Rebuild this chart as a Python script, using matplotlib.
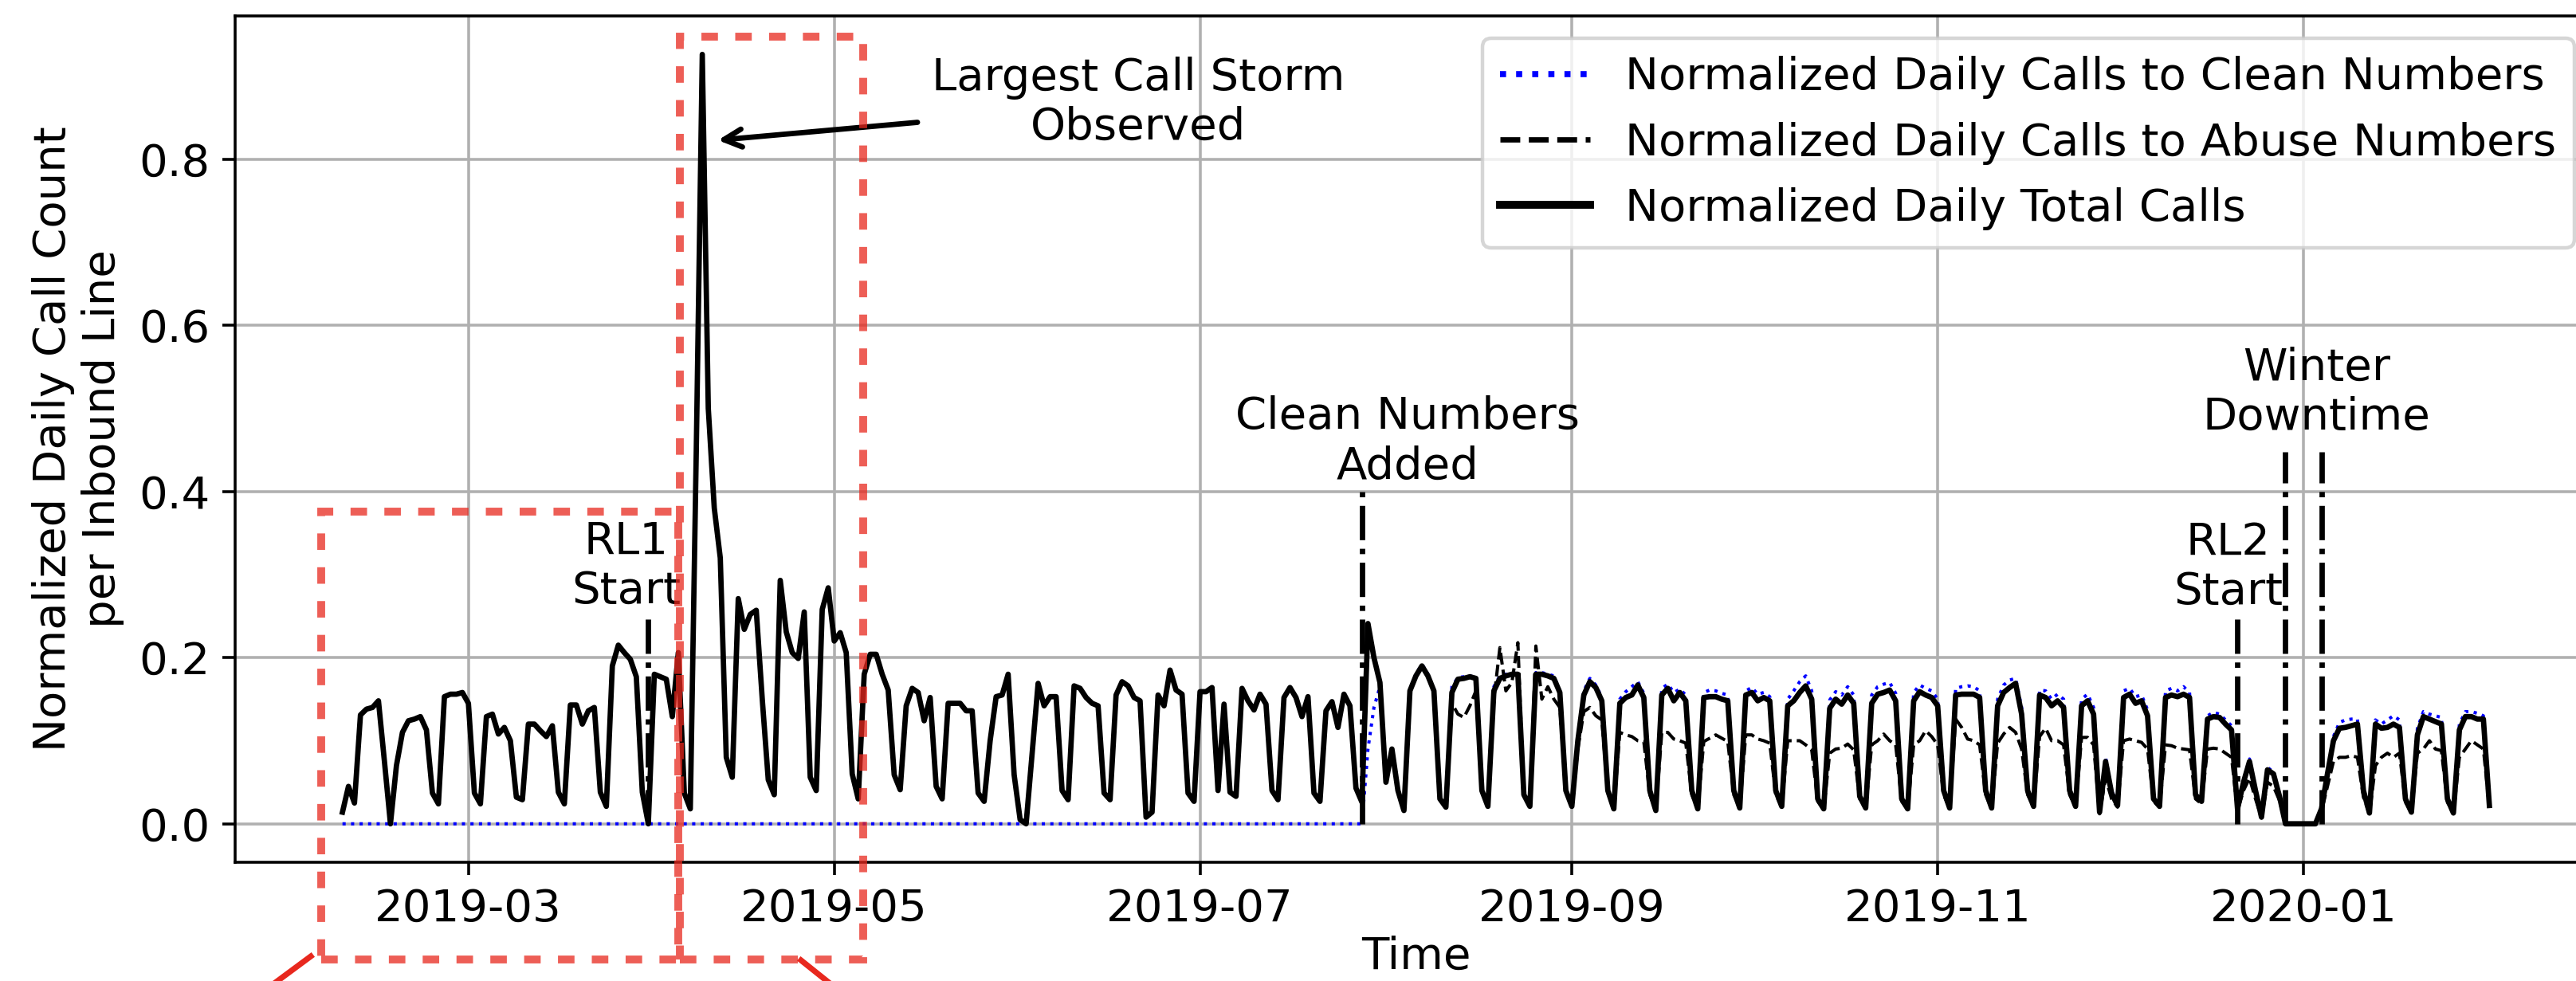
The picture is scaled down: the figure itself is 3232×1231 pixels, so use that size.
import pandas as pd
import matplotlib
matplotlib.use("Agg")
import matplotlib.pyplot as plt
import matplotlib.dates as mdates
from matplotlib.patches import Rectangle
from matplotlib.lines import Line2D

# daily values, 2019-02-08 .. 2020-02-01 (one row per Mon..Sun week)
start_date = "2019-02-08"
end_date = "2020-02-01"

total_calls = [
    0.014, 0.045, 0.025,
    0.131, 0.138, 0.140, 0.148, 0.075, 0.000, 0.070,
    0.110, 0.124, 0.126, 0.129, 0.113, 0.037, 0.024,
    0.153, 0.156, 0.156, 0.158, 0.145, 0.037, 0.024,
    0.129, 0.132, 0.108, 0.116, 0.100, 0.032, 0.029,
    0.120, 0.120, 0.112, 0.105, 0.118, 0.038, 0.024,
    0.143, 0.143, 0.120, 0.136, 0.140, 0.038, 0.021,
    0.190, 0.215, 0.206, 0.198, 0.177, 0.038, 0.000,
    0.180, 0.177, 0.174, 0.129, 0.206, 0.037, 0.018,
    0.450, 0.926, 0.500, 0.380, 0.320, 0.080, 0.056,
    0.271, 0.234, 0.252, 0.257, 0.150, 0.053, 0.035,
    0.293, 0.231, 0.206, 0.199, 0.255, 0.056, 0.040,
    0.258, 0.284, 0.220, 0.230, 0.206, 0.060, 0.030,
    0.180, 0.204, 0.204, 0.180, 0.161, 0.059, 0.041,
    0.142, 0.163, 0.158, 0.124, 0.152, 0.045, 0.030,
    0.145, 0.145, 0.145, 0.136, 0.136, 0.037, 0.027,
    0.100, 0.153, 0.155, 0.180, 0.059, 0.005, 0.000,
    0.085, 0.169, 0.142, 0.153, 0.153, 0.040, 0.029,
    0.166, 0.163, 0.152, 0.145, 0.142, 0.037, 0.029,
    0.155, 0.171, 0.166, 0.152, 0.148, 0.008, 0.014,
    0.155, 0.142, 0.185, 0.161, 0.156, 0.037, 0.027,
    0.159, 0.159, 0.164, 0.040, 0.144, 0.038, 0.033,
    0.163, 0.148, 0.137, 0.156, 0.144, 0.040, 0.029,
    0.152, 0.164, 0.152, 0.129, 0.153, 0.037, 0.027,
    0.136, 0.147, 0.116, 0.156, 0.142, 0.043, 0.026,
    0.241, 0.200, 0.170, 0.050, 0.090, 0.040, 0.016,
    0.160, 0.178, 0.190, 0.178, 0.160, 0.030, 0.020,
    0.158, 0.174, 0.175, 0.177, 0.175, 0.040, 0.021,
    0.160, 0.175, 0.178, 0.180, 0.180, 0.035, 0.021,
    0.180, 0.180, 0.178, 0.175, 0.158, 0.040, 0.021,
    0.100, 0.155, 0.171, 0.164, 0.148, 0.040, 0.018,
    0.145, 0.152, 0.155, 0.167, 0.152, 0.040, 0.016,
    0.155, 0.163, 0.148, 0.158, 0.148, 0.040, 0.018,
    0.152, 0.153, 0.153, 0.150, 0.148, 0.040, 0.019,
    0.155, 0.158, 0.148, 0.152, 0.148, 0.040, 0.021,
    0.142, 0.148, 0.158, 0.166, 0.150, 0.030, 0.018,
    0.139, 0.150, 0.144, 0.155, 0.145, 0.033, 0.019,
    0.145, 0.156, 0.158, 0.161, 0.148, 0.030, 0.018,
    0.148, 0.159, 0.155, 0.152, 0.142, 0.040, 0.019,
    0.155, 0.156, 0.156, 0.156, 0.152, 0.040, 0.019,
    0.142, 0.158, 0.164, 0.169, 0.132, 0.040, 0.021,
    0.155, 0.152, 0.142, 0.148, 0.140, 0.040, 0.021,
    0.142, 0.148, 0.132, 0.014, 0.075, 0.037, 0.022,
    0.152, 0.156, 0.145, 0.148, 0.130, 0.030, 0.021,
    0.152, 0.155, 0.153, 0.156, 0.152, 0.035, 0.027,
    0.126, 0.129, 0.128, 0.120, 0.113, 0.018, 0.050,
    0.075, 0.040, 0.008, 0.065, 0.060, 0.033, 0.000,
    0.000, 0.000, 0.000, 0.000, 0.000, 0.018, 0.060,
    0.100, 0.115, 0.116, 0.118, 0.120, 0.040, 0.013,
    0.120, 0.115, 0.116, 0.120, 0.116, 0.030, 0.014,
    0.107, 0.129, 0.126, 0.123, 0.120, 0.030, 0.013,
    0.113, 0.129, 0.129, 0.126, 0.126, 0.022,
]

# abuse numbers carried all calls until mid August
abuse_same_until = "2019-08-11"
abuse_calls_late = [
    0.145, 0.132, 0.128, 0.142, 0.160, 0.038, 0.021,
    0.150, 0.212, 0.160, 0.170, 0.218, 0.035, 0.021,
    0.214, 0.150, 0.165, 0.150, 0.140, 0.038, 0.020,
    0.090, 0.135, 0.140, 0.130, 0.125, 0.038, 0.018,
    0.110, 0.107, 0.105, 0.100, 0.099, 0.035, 0.016,
    0.110, 0.110, 0.102, 0.100, 0.097, 0.035, 0.018,
    0.099, 0.103, 0.107, 0.103, 0.099, 0.035, 0.019,
    0.107, 0.107, 0.102, 0.100, 0.097, 0.035, 0.020,
    0.100, 0.100, 0.100, 0.095, 0.089, 0.027, 0.017,
    0.085, 0.090, 0.091, 0.096, 0.089, 0.030, 0.018,
    0.095, 0.100, 0.108, 0.100, 0.095, 0.027, 0.017,
    0.095, 0.100, 0.112, 0.105, 0.095, 0.035, 0.018,
    0.126, 0.116, 0.102, 0.100, 0.095, 0.035, 0.018,
    0.097, 0.108, 0.116, 0.110, 0.090, 0.035, 0.020,
    0.105, 0.115, 0.100, 0.100, 0.095, 0.035, 0.020,
    0.104, 0.104, 0.095, 0.012, 0.055, 0.030, 0.020,
    0.100, 0.102, 0.100, 0.098, 0.090, 0.027, 0.020,
    0.095, 0.094, 0.091, 0.090, 0.089, 0.030, 0.024,
    0.090, 0.091, 0.090, 0.085, 0.080, 0.016, 0.040,
    0.055, 0.030, 0.007, 0.050, 0.045, 0.028, 0.000,
    0.000, 0.000, 0.000, 0.000, 0.000, 0.015, 0.045,
    0.075, 0.080, 0.080, 0.082, 0.080, 0.032, 0.012,
    0.070, 0.080, 0.085, 0.080, 0.085, 0.026, 0.013,
    0.085, 0.090, 0.100, 0.090, 0.088, 0.026, 0.012,
    0.080, 0.090, 0.100, 0.095, 0.090, 0.020,
]

# clean numbers went live on 2019-07-28, zero before
clean_start = "2019-07-29"
clean_calls_late = [
    0.090, 0.140, 0.165, 0.050, 0.090, 0.040, 0.016,
    0.162, 0.180, 0.192, 0.180, 0.162, 0.030, 0.020,
    0.165, 0.176, 0.177, 0.178, 0.176, 0.040, 0.021,
    0.165, 0.178, 0.180, 0.182, 0.182, 0.035, 0.021,
    0.182, 0.182, 0.180, 0.178, 0.160, 0.040, 0.021,
    0.105, 0.160, 0.175, 0.167, 0.152, 0.040, 0.018,
    0.150, 0.159, 0.165, 0.171, 0.157, 0.040, 0.016,
    0.163, 0.168, 0.158, 0.162, 0.155, 0.040, 0.018,
    0.158, 0.161, 0.160, 0.157, 0.155, 0.040, 0.019,
    0.160, 0.164, 0.156, 0.158, 0.153, 0.040, 0.021,
    0.150, 0.160, 0.171, 0.178, 0.160, 0.030, 0.018,
    0.149, 0.159, 0.155, 0.165, 0.155, 0.033, 0.019,
    0.155, 0.165, 0.168, 0.170, 0.157, 0.030, 0.018,
    0.158, 0.167, 0.163, 0.160, 0.150, 0.040, 0.019,
    0.163, 0.165, 0.166, 0.165, 0.160, 0.040, 0.019,
    0.150, 0.167, 0.173, 0.175, 0.140, 0.040, 0.021,
    0.161, 0.160, 0.150, 0.156, 0.150, 0.040, 0.021,
    0.150, 0.156, 0.140, 0.015, 0.080, 0.040, 0.023,
    0.160, 0.163, 0.153, 0.155, 0.137, 0.032, 0.021,
    0.160, 0.163, 0.160, 0.165, 0.158, 0.036, 0.028,
    0.130, 0.134, 0.132, 0.125, 0.118, 0.019, 0.052,
    0.078, 0.042, 0.008, 0.068, 0.062, 0.034, 0.000,
    0.000, 0.000, 0.000, 0.000, 0.000, 0.019, 0.062,
    0.105, 0.122, 0.125, 0.126, 0.126, 0.042, 0.013,
    0.125, 0.120, 0.125, 0.130, 0.125, 0.031, 0.014,
    0.115, 0.135, 0.132, 0.130, 0.128, 0.031, 0.013,
    0.120, 0.135, 0.135, 0.133, 0.130, 0.022,
]

# event markers: (date, top of line)
events = {
    "rl1": ("2019-03-31", 0.247),
    "clean": ("2019-07-28", 0.40),
    "rl2": ("2019-12-21", 0.25),
    "winter_a": ("2019-12-29", 0.448),
    "winter_b": ("2020-01-04", 0.448),
}

dates = pd.date_range(start_date, end_date, freq="D")
s_total = pd.Series(total_calls, index=dates)
s_abuse = pd.concat([s_total[:abuse_same_until],
                     pd.Series(abuse_calls_late, index=dates[dates > abuse_same_until])])
s_clean = pd.Series(0.0, index=dates)
s_clean[clean_start:] = clean_calls_late

W, H, DPI = 3232, 1231, 323
fig = plt.figure(figsize=(W / DPI, H / DPI), dpi=DPI)
ax = fig.add_axes([295 / W, 1 - 1082 / H, (3258 - 295) / W, (1082 - 20) / H])

ax.plot(s_clean.index, s_clean.values, color="blue", linestyle=":", lw=0.9)
ax.plot(s_abuse.index, s_abuse.values, color="black", linestyle="--", lw=0.9)
ax.plot(s_total.index, s_total.values, color="black", linestyle="-", lw=1.5)

for key, (d, top) in events.items():
    ax.plot([pd.Timestamp(d)] * 2, [0, top], color="black", linestyle="-.", lw=1.5)

fs = 12.5
ax.text(pd.Timestamp("2019-03-27 07:00"), 0.31, "RL1\nStart", ha="center", va="center", fontsize=fs)
ax.text(pd.Timestamp("2019-08-04 14:00"), 0.46, "Clean Numbers\nAdded", ha="center", va="center", fontsize=fs)
ax.text(pd.Timestamp("2019-12-19 10:00"), 0.309, "RL2\nStart", ha="center", va="center", fontsize=fs)
ax.text(pd.Timestamp("2020-01-03 05:00"), 0.519, "Winter\nDowntime", ha="center", va="center", fontsize=fs)
ax.annotate("Largest Call Storm\nObserved",
            xy=(pd.Timestamp("2019-04-10 10:00"), 0.822),
            xytext=(pd.Timestamp("2019-06-20 17:00"), 0.868),
            ha="center", va="center", fontsize=fs,
            arrowprops=dict(arrowstyle="->", color="black", lw=1.5))

ax.xaxis.set_major_locator(mdates.MonthLocator(bymonth=[1, 3, 5, 7, 9, 11]))
ax.xaxis.set_major_formatter(mdates.DateFormatter("%Y-%m"))
ax.tick_params(labelsize=fs)
ax.set_xlabel("Time", fontsize=fs, labelpad=1.5)
ax.set_ylabel("Normalized Daily Call Count\nper Inbound Line", fontsize=fs)
ax.grid(True)

handles = [
    Line2D([], [], color="blue", linestyle=":", lw=1.7),
    Line2D([], [], color="black", linestyle="--", lw=1.5),
    Line2D([], [], color="black", linestyle="-", lw=2.2),
]
ax.legend(handles, ["Normalized Daily Calls to Clean Numbers",
                    "Normalized Daily Calls to Abuse Numbers",
                    "Normalized Daily Total Calls"],
          loc="upper right", fontsize=fs)

# red zoom boxes (figure pixel coords) and connector stubs
red = "#e8281e"
box_style = dict(fill=False, edgecolor=red, alpha=0.75, lw=2.2,
                 linestyle=(0, (2.1, 2.2)), transform=fig.transFigure)
for x0, y0, x1, y1 in [(403, 642, 851, 1204), (853, 46, 1083, 1204)]:
    fig.add_artist(Rectangle((x0 / W, 1 - y1 / H), (x1 - x0) / W, (y1 - y0) / H, **box_style))
for (xa, ya), (xb, yb) in [((390, 1200), (340, 1237)), ((1005, 1205), (1045, 1237))]:
    fig.add_artist(Line2D([xa / W, xb / W], [1 - ya / H, 1 - yb / H], color=red, lw=1.6,
                          transform=fig.transFigure))

fig.savefig("out.png", dpi=DPI)
